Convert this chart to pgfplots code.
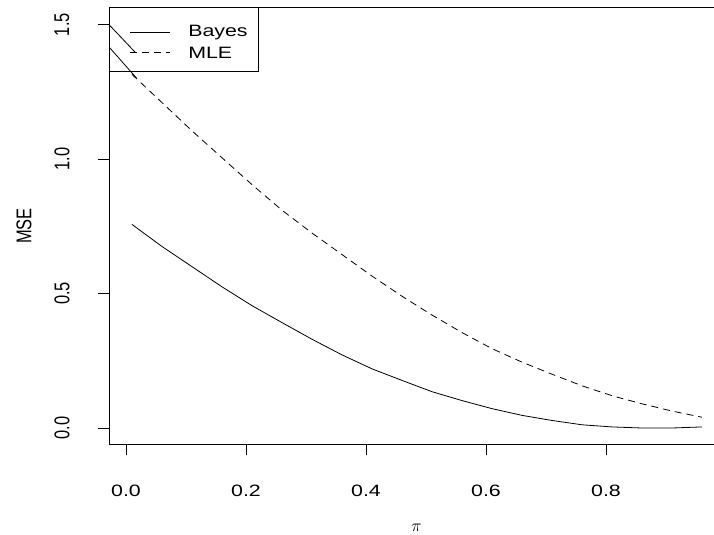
\documentclass[border=0pt]{standalone}
\usepackage{fontspec}
\setmainfont{Liberation Sans}
\usepackage{pgfplots}
\pgfplotsset{compat=1.18}

\newcommand{\rfont}{\fontsize{16.5}{18}\selectfont}

\begin{document}
\begin{tikzpicture}
\useasboundingbox (0,0) rectangle (714bp,535bp);
\begin{axis}[
    at={(109bp,90.7bp)}, anchor=south west,
    scale only axis,
    width=605bp, height=436.3bp,
    xmin=-0.0283, xmax=0.98,
    ymin=-0.0606, ymax=1.5618,
    axis x line=box, axis y line=left,
    x axis line style={-}, y axis line style={-},
    axis line style={line width=1bp},
    xtick={0,0.2,0.4,0.6,0.8},
    ytick={0,0.5,1,1.5},
    xtick pos=left,
    tick align=outside,
    major tick length=11bp,
    tick style={line width=0.8bp, black},
    /pgf/number format/assume math mode=true,
    /pgf/number format/.cd, fixed, fixed zerofill, precision=1,
    /pgfplots/.cd,
    xticklabel style={font=\rfont, anchor=center, yshift=-36bp, xscale=1.3},
    yticklabel style={font=\rfont, anchor=center, xshift=-36bp, rotate=90, yscale=1.3},
    clip mode=individual,
]
% stray solid segments at the left edge
\addplot[black, line width=0.8bp] coordinates {(-0.0283,1.500) (0.015,1.398)};
\addplot[black, line width=0.8bp] coordinates {(-0.0283,1.417) (0.018,1.300)};
% Bayes
\addplot[black, line width=0.8bp] coordinates {
  (0.01,0.757) (0.06,0.675) (0.11,0.600) (0.16,0.525) (0.21,0.455)
  (0.26,0.392) (0.31,0.330) (0.36,0.272) (0.41,0.220) (0.46,0.177)
  (0.51,0.135) (0.56,0.102) (0.61,0.072) (0.66,0.047) (0.71,0.028)
  (0.76,0.012) (0.81,0.004) (0.86,0.000) (0.91,0.000) (0.96,0.004)
};
% MLE
\addplot[black, line width=0.8bp, dash pattern=on 7bp off 5bp] coordinates {
  (0.01,1.315) (0.06,1.210) (0.11,1.105) (0.16,1.005) (0.21,0.905)
  (0.26,0.810) (0.31,0.725) (0.36,0.645) (0.41,0.565) (0.46,0.490)
  (0.51,0.420) (0.56,0.355) (0.61,0.295) (0.66,0.245) (0.71,0.200)
  (0.76,0.157) (0.81,0.120) (0.86,0.090) (0.91,0.063) (0.96,0.040)
};
% legend
\draw[line width=1bp] (rel axis cs:0,1) rectangle ++(149bp,-64bp);
\draw[line width=0.8bp] ([xshift=21bp,yshift=-24bp]rel axis cs:0,1) -- ([xshift=61bp,yshift=-24bp]rel axis cs:0,1);
\draw[line width=0.8bp, dash pattern=on 7bp off 5bp] ([xshift=21bp,yshift=-44bp]rel axis cs:0,1) -- ([xshift=61bp,yshift=-44bp]rel axis cs:0,1);
\node[font=\rfont, anchor=base west, inner sep=0, xscale=1.3] at ([xshift=79bp,yshift=-29bp]rel axis cs:0,1) {Bayes};
\node[font=\rfont, anchor=base west, inner sep=0, xscale=1.3] at ([xshift=79bp,yshift=-51bp]rel axis cs:0,1) {MLE};
% axis titles
\node[font=\rfont, rotate=90, yscale=1.3, anchor=center] at ([xshift=-85bp]rel axis cs:0,0.5) {MSE};
\node[font=\fontsize{17}{18}\selectfont, anchor=center] at ([yshift=-83bp]axis cs:0.484,-0.0606) {$\pi$};
\end{axis}
\end{tikzpicture}
\end{document}
